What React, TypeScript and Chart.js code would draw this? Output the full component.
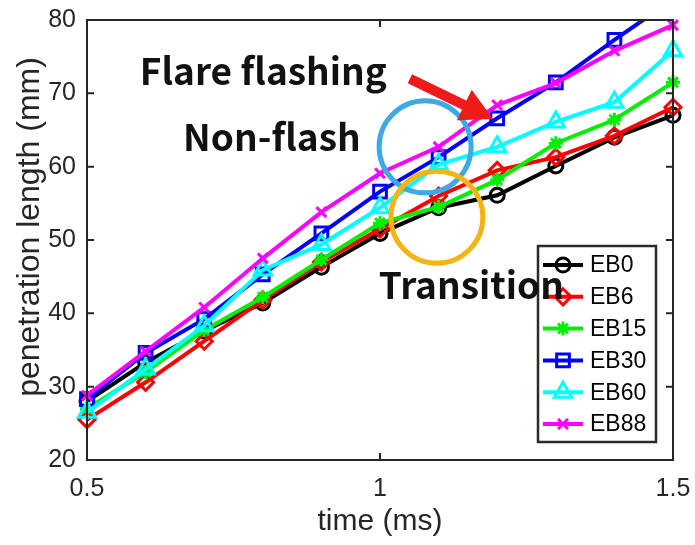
import React, { useEffect, useRef } from "react";
import { Chart, registerables } from "chart.js";

Chart.register(...registerables);

// ---------------- data ----------------
const times = [0.5, 0.6, 0.7, 0.8, 0.9, 1.0, 1.1, 1.2, 1.3, 1.4, 1.5];
const eb0 = [28.0, 33.3, 37.6, 41.4, 46.3, 50.9, 54.4, 56.1, 60.1, 64.0, 67.0];
const eb6 = [25.5, 30.6, 36.2, 41.8, 47.0, 51.5, 56.0, 59.5, 61.3, 64.2, 68.1];
const eb15 = [27.0, 32.0, 37.7, 42.2, 47.3, 52.3, 54.5, 58.2, 63.2, 66.4, 71.5];
const eb30 = [28.3, 34.6, 39.2, 45.3, 50.9, 56.6, 61.3, 66.6, 71.5, 77.3, 82.8];
const eb60 = [26.5, 32.4, 38.3, 45.9, 49.4, 54.4, 60.3, 62.7, 66.1, 68.8, 75.8];
const eb88 = [28.8, 34.8, 40.8, 47.5, 53.8, 59.1, 62.7, 68.4, 71.4, 75.8, 79.3];

const seriesLabels = ["EB0", "EB6", "EB15", "EB30", "EB60", "EB88"];
const seriesValues = [eb0, eb6, eb15, eb30, eb60, eb88];
const seriesColors = ["#000000", "#ff0000", "#00ee00", "#0000ff", "#00ffff", "#ff00ff"];
const seriesMarkers = ["circle", "rectRot", "star", "rect", "triangle", "crossRot"];
const seriesRadius = [7, 8, 7, 9, 10, 7];

const xTicks = [0.5, 1, 1.5];
const yTicks = [20, 30, 40, 50, 60, 70, 80];
const xTitle = "time (ms)";
const yTitle = "penetration length (mm)";

// annotation texts and anchors (data units)
const noteTexts = ["Flare flashing", "Non-flash", "Transition"];
const noteX = [0.59, 0.664, 0.998];
const noteY = [71.2, 62.1, 41.9];
const noteSizes = [37, 37, 37];
const circleX = [1.077, 1.097];
const circleY = [62.7, 53.1];
const circleColors = ["#3fa9e6", "#f4b414"];
const arrowFrom = [1.051, 72.0];
const arrowTo = [1.193, 66.5];

const FONT = '"Liberation Sans", Arial, Helvetica, sans-serif';
const NOTE_FONT = '"Noto Sans CJK KR", "Open Sans", sans-serif';

function drawMarker(ctx: CanvasRenderingContext2D, style: string, x: number, y: number, r: number, color: string, lw: number) {
  ctx.save();
  ctx.strokeStyle = color;
  ctx.lineWidth = lw;
  ctx.beginPath();
  if (style === "circle") {
    ctx.arc(x, y, r, 0, Math.PI * 2);
  } else if (style === "rectRot") {
    ctx.moveTo(x, y - r);
    ctx.lineTo(x + r, y);
    ctx.lineTo(x, y + r);
    ctx.lineTo(x - r, y);
    ctx.closePath();
  } else if (style === "rect") {
    const s = Math.SQRT1_2 * r;
    ctx.rect(x - s, y - s, 2 * s, 2 * s);
  } else if (style === "triangle") {
    ctx.moveTo(x, y - r);
    ctx.lineTo(x + r * 0.866, y + r * 0.5);
    ctx.lineTo(x - r * 0.866, y + r * 0.5);
    ctx.closePath();
  } else if (style === "star") {
    for (let k = 0; k < 4; k++) {
      const a = (k * Math.PI) / 4;
      ctx.moveTo(x - Math.cos(a) * r, y - Math.sin(a) * r);
      ctx.lineTo(x + Math.cos(a) * r, y + Math.sin(a) * r);
    }
  } else if (style === "crossRot") {
    const s = Math.SQRT1_2 * r;
    ctx.moveTo(x - s, y - s);
    ctx.lineTo(x + s, y + s);
    ctx.moveTo(x - s, y + s);
    ctx.lineTo(x + s, y - s);
  }
  ctx.stroke();
  ctx.restore();
}

const decorPlugin = {
  id: "decor",
  afterDatasetsDraw(chart: any) {
    const { ctx, chartArea: a, scales } = chart;
    const xs = scales.x;
    const ys = scales.y;
    ctx.save();

    // y title
    ctx.save();
    ctx.translate(30, (a.top + a.bottom) / 2 - 13);
    ctx.rotate(-Math.PI / 2);
    ctx.fillStyle = "#262626";
    ctx.font = `32px ${FONT}`;
    ctx.textAlign = "center";
    ctx.textBaseline = "middle";
    ctx.fillText(yTitle, 0, 0);
    ctx.restore();

    // axes box with inward ticks
    ctx.strokeStyle = "#262626";
    ctx.lineWidth = 2;
    ctx.strokeRect(a.left, a.top, a.right - a.left, a.bottom - a.top);
    const tl = 7;
    ctx.beginPath();
    xTicks.forEach((v) => {
      const px = xs.getPixelForValue(v);
      ctx.moveTo(px, a.bottom);
      ctx.lineTo(px, a.bottom - tl);
      ctx.moveTo(px, a.top);
      ctx.lineTo(px, a.top + tl);
    });
    yTicks.forEach((v) => {
      const py = ys.getPixelForValue(v);
      ctx.moveTo(a.left, py);
      ctx.lineTo(a.left + tl, py);
      ctx.moveTo(a.right, py);
      ctx.lineTo(a.right - tl, py);
    });
    ctx.stroke();

    // legend
    const lw = 118;
    const lh = 196;
    const lx = a.right - 135;
    const ly = a.bottom - 214;
    ctx.fillStyle = "#ffffff";
    ctx.fillRect(lx, ly, lw, lh);
    ctx.strokeStyle = "#2a2a2a";
    ctx.lineWidth = 2.5;
    ctx.strokeRect(lx, ly, lw, lh);
    chart.data.datasets.forEach((ds: any, i: number) => {
      const ry = ly + 19 + i * 31.8;
      ctx.strokeStyle = ds.borderColor;
      ctx.lineWidth = 4;
      ctx.beginPath();
      ctx.moveTo(lx + 5, ry);
      ctx.lineTo(lx + 45, ry);
      ctx.stroke();
      drawMarker(ctx, ds.pointStyle, lx + 25, ry, ds.pointRadius, ds.borderColor, ds.pointBorderWidth);
      ctx.fillStyle = "#000000";
      ctx.font = `23px ${FONT}`;
      ctx.textAlign = "left";
      ctx.textBaseline = "middle";
      ctx.fillText(ds.label, lx + 52, ry + 1);
    });

    // circles
    circleX.forEach((cx, i) => {
      ctx.strokeStyle = circleColors[i];
      ctx.lineWidth = 5;
      ctx.beginPath();
      ctx.arc(xs.getPixelForValue(cx), ys.getPixelForValue(circleY[i]), 46, 0, Math.PI * 2);
      ctx.stroke();
    });

    // arrow
    const x1 = xs.getPixelForValue(arrowFrom[0]);
    const y1 = ys.getPixelForValue(arrowFrom[1]);
    const x2 = xs.getPixelForValue(arrowTo[0]);
    const y2 = ys.getPixelForValue(arrowTo[1]);
    const ang = Math.atan2(y2 - y1, x2 - x1);
    const headLen = 32;
    const headHalf = 17;
    const bx = x2 - Math.cos(ang) * headLen;
    const by = y2 - Math.sin(ang) * headLen;
    ctx.strokeStyle = "#ee1b1b";
    ctx.fillStyle = "#ee1b1b";
    ctx.lineWidth = 10;
    ctx.lineCap = "butt";
    ctx.beginPath();
    ctx.moveTo(x1, y1);
    ctx.lineTo(bx + Math.cos(ang) * 2, by + Math.sin(ang) * 2);
    ctx.stroke();
    ctx.beginPath();
    ctx.moveTo(x2, y2);
    ctx.lineTo(bx - Math.sin(ang) * headHalf, by + Math.cos(ang) * headHalf);
    ctx.lineTo(bx + Math.sin(ang) * headHalf, by - Math.cos(ang) * headHalf);
    ctx.closePath();
    ctx.fill();

    // texts
    ctx.fillStyle = "#111111";
    ctx.textAlign = "left";
    ctx.textBaseline = "alphabetic";
    noteTexts.forEach((t, i) => {
      ctx.font = `bold ${noteSizes[i]}px ${NOTE_FONT}`;
      ctx.fillText(t, xs.getPixelForValue(noteX[i]), ys.getPixelForValue(noteY[i]));
    });

    ctx.restore();
  },
};

export default function App() {
  const ref = useRef<HTMLCanvasElement | null>(null);
  useEffect(() => {
    if (!ref.current) return;
    const datasets = seriesLabels.map((label, i) => ({
      label,
      data: times.map((t, j) => ({ x: t, y: seriesValues[i][j] })),
      borderColor: seriesColors[i],
      backgroundColor: "rgba(0,0,0,0)",
      pointBackgroundColor: "rgba(0,0,0,0)",
      pointBorderColor: seriesColors[i],
      pointStyle: seriesMarkers[i],
      pointRadius: seriesRadius[i],
      pointBorderWidth: 3,
      borderWidth: 4,
      tension: 0,
      order: seriesLabels.length - 1 - i,
      clip: { left: 12, right: 12, top: 1, bottom: 12 },
    }));
    const chart = new Chart(ref.current, {
      type: "line",
      data: { datasets },
      plugins: [decorPlugin],
      options: {
        animation: false,
        responsive: false,
        devicePixelRatio: 1,
        layout: { padding: { top: 20, right: 22, left: 0, bottom: 0 } },
        plugins: { legend: { display: false }, tooltip: { enabled: false } },
        scales: {
          x: {
            type: "linear",
            min: 0.5,
            max: 1.5,
            afterBuildTicks: (s: any) => {
              s.ticks = xTicks.map((v) => ({ value: v }));
            },
            afterFit: (s: any) => {
              s.height = 85;
              s.paddingLeft = 0;
              s.paddingRight = 0;
            },
            grid: { display: false, drawTicks: false },
            border: { display: false },
            ticks: {
              color: "#262626",
              font: { family: FONT, size: 25 },
              padding: 14,
              maxRotation: 0,
              callback: (v: any) => String(v),
            },
            title: {
              display: true,
              text: xTitle,
              color: "#262626",
              font: { family: FONT, size: 30 },
              padding: { top: 0, bottom: 5 },
            },
          },
          y: {
            type: "linear",
            min: 20,
            max: 80,
            afterBuildTicks: (s: any) => {
              s.ticks = yTicks.map((v) => ({ value: v }));
            },
            afterFit: (s: any) => {
              s.width = 87;
              s.paddingTop = 0;
              s.paddingBottom = 0;
            },
            grid: { display: false, drawTicks: false },
            border: { display: false },
            ticks: {
              color: "#262626",
              font: { family: FONT, size: 25 },
              padding: 11,
              callback: (v: any) => String(v),
            },
            title: { display: false },
          },
        },
      },
    } as any);
    return () => chart.destroy();
  }, []);
  return (
    <div style={{ position: "fixed", left: 0, top: 0, width: 695, height: 545, background: "#fff" }}>
      <canvas ref={ref} width={695} height={545} style={{ width: 695, height: 545, display: "block" }} />
    </div>
  );
}
